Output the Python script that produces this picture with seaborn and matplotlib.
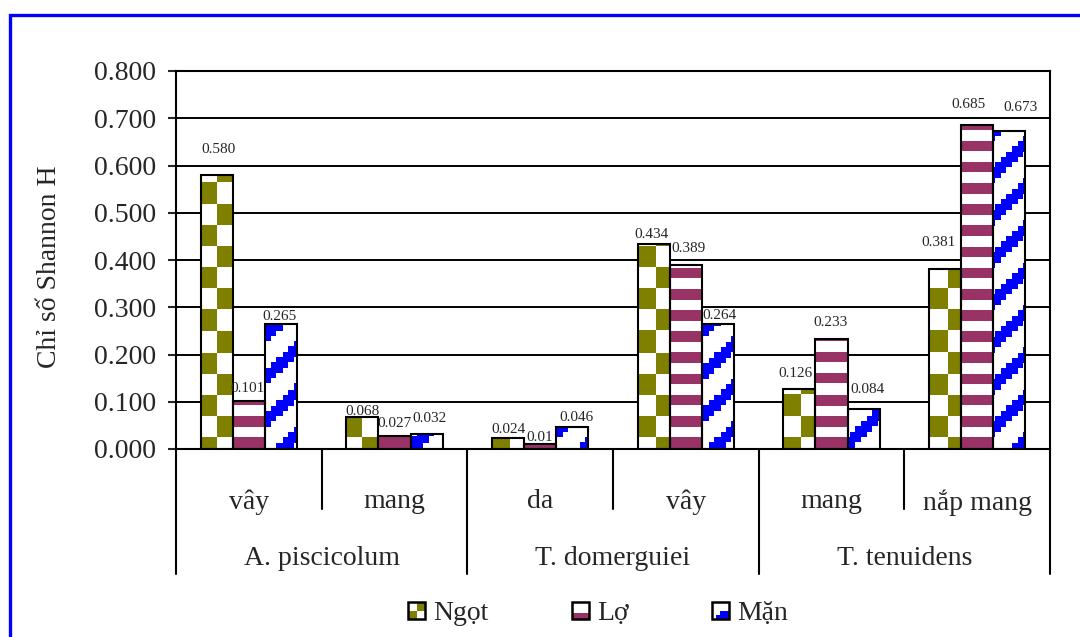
import numpy as np
import pandas as pd
import matplotlib
matplotlib.use("Agg")
import matplotlib.pyplot as plt
import matplotlib.colors as mcolors
import seaborn as sns
from matplotlib.patches import Rectangle, Polygon
from matplotlib.legend_handler import HandlerBase
from matplotlib.ticker import FormatStrFormatter
from matplotlib.transforms import blended_transform_factory

# ---- data -------------------------------------------------------------
species = ["A. piscicolum", "A. piscicolum", "T. domerguiei",
           "T. domerguiei", "T. tenuidens", "T. tenuidens"]
parts = ["vây", "mang", "da", "vây", "mang", "nắp mang"]
salinity = ["Ngọt", "Lợ", "Mặn"]

ngot = [0.580, 0.068, 0.024, 0.434, 0.126, 0.381]
lo = [0.101, 0.027, 0.010, 0.389, 0.233, 0.685]
man = [0.265, 0.032, 0.046, 0.264, 0.084, 0.673]

ngot_labels = ["0.580", "0.068", "0.024", "0.434", "0.126", "0.381"]
lo_labels = ["0.101", "0.027", "0.01", "0.389", "0.233", "0.685"]
man_labels = ["0.265", "0.032", "0.046", "0.264", "0.084", "0.673"]

y_ticks = [0.0, 0.1, 0.2, 0.3, 0.4, 0.5, 0.6, 0.7, 0.8]
y_label = "Chỉ số Shannon H"

# ---- styling ----------------------------------------------------------
sns.set_style("white")
plt.rcParams["font.family"] = ["Liberation Serif", "DejaVu Serif"]

colors = ["#808000", "#993366", "#0000FF"]
kinds = ["checker", "stripes", "diagonal"]

# per-label nudges (pixels) relative to the top centre of each bar
label_dx = [[2, 0, 0, -2, -4, -7], [-1, 0, 0, 3, -1, -9], [-1, 3, 4, 2, 4, 11]]
label_dy = [[25, 5, 8, 9, 16, 26], [13, 13, 7, 17, 16, 21], [7, 15, 10, 9, 20, 24]]

W_PX, H_PX = 1080, 637
fig = plt.figure(figsize=(W_PX / 100, H_PX / 100), dpi=100)
ax = fig.add_axes([176 / W_PX, 1 - 449 / H_PX, 874 / W_PX, 378 / H_PX])

keys = [f"{s}|{p}" for s, p in zip(species, parts)]
df = pd.DataFrame({
    "key": keys * 3,
    "salinity": np.repeat(salinity, len(keys)),
    "value": ngot + lo + man,
})

sns.barplot(data=df, x="key", y="value", hue="salinity", order=keys,
            hue_order=salinity, palette=colors, width=0.66, gap=0,
            saturation=1, edgecolor="black", linewidth=1.5, legend=False, ax=ax)

ax.set_xlim(-0.5, len(keys) - 0.5)
ax.set_ylim(y_ticks[0], y_ticks[-1])
ax.set_yticks(y_ticks)
ax.yaxis.set_major_formatter(FormatStrFormatter("%.3f"))
ax.set_xlabel("")
ax.set_ylabel(y_label, fontsize=20)
ax.yaxis.set_label_coords(-0.131, 0.481)

ax.yaxis.grid(True, color="black", linewidth=1.4)
ax.set_axisbelow(True)
for sp in ax.spines.values():
    sp.set_color("black")
    sp.set_linewidth(1.5)
    sp.set_visible(True)

ax.tick_params(axis="y", direction="out", length=6, width=1.5,
               labelsize=20, pad=8.5, left=True)
ax.set_xticks(range(len(keys)))
ax.set_xticklabels(parts)
ax.tick_params(axis="x", length=0, labelsize=20, pad=29)

# ---- fill patterns ----------------------------------------------------
UX, UY = 5.407, 5.29
X0, Y0 = 216.7, 183.3


def pattern_mask(kind, xs, ys):
    if kind == "checker":
        n = np.floor((xs - X0) / (3 * UX))
        k = np.floor((ys - Y0) / (4 * UY))
        return np.mod(n + k, 2) == 1
    if kind == "stripes":
        return np.mod(ys - Y0, 4 * UY) < 2 * UY
    i = np.floor((xs - X0) / UX)
    j = np.floor((ys - Y0) / UY)
    return np.isin(np.mod(i + j, 8), [4, 5, 6])


for cont, kind, color in zip(ax.containers, kinds, colors):
    rgb = mcolors.to_rgb(color)
    for patch in cont.patches:
        bb = patch.get_window_extent()
        nx = max(int(round(bb.width)), 1)
        ny = max(int(round(bb.height)), 1)
        xs = bb.x0 + (np.arange(nx) + 0.5) * bb.width / nx
        ys = H_PX - (bb.y1 - (np.arange(ny) + 0.5) * bb.height / ny)
        X, Y = np.meshgrid(xs, ys)
        mask = pattern_mask(kind, X, Y)
        img = np.ones((ny, nx, 3))
        img[mask] = rgb
        x, y = patch.get_x(), patch.get_y()
        w, h = patch.get_width(), patch.get_height()
        im = ax.imshow(img, extent=(x, x + w, y, y + h), origin="upper",
                       interpolation="nearest", aspect="auto", zorder=1.5)
        im.set_clip_path(patch)
        patch.set_facecolor("none")
        patch.set_zorder(2)

ax.set_xlim(-0.5, len(keys) - 0.5)
ax.set_ylim(y_ticks[0], y_ticks[-1])

# ---- value labels -----------------------------------------------------
all_labels = [ngot_labels, lo_labels, man_labels]
for s_idx, cont in enumerate(ax.containers):
    for c_idx, patch in enumerate(cont.patches):
        cx = patch.get_x() + patch.get_width() / 2
        top = patch.get_y() + patch.get_height()
        ax.annotate(all_labels[s_idx][c_idx], xy=(cx, top),
                    xytext=(label_dx[s_idx][c_idx], label_dy[s_idx][c_idx]),
                    textcoords="offset pixels", ha="center", va="center",
                    fontsize=11, zorder=4)

# ---- two-level category axis -------------------------------------------
trans = blended_transform_factory(ax.transData, ax.transAxes)
n = len(keys)
for b in range(n + 1):
    pos = b - 0.5
    is_group = b == 0 or b == n or species[b - 1] != species[b]
    depth = -0.33 if is_group else -0.16
    ax.plot([pos, pos], [0, depth], transform=trans, color="black",
            linewidth=1.5, clip_on=False, zorder=3)

groups = []
for i, s in enumerate(species):
    if groups and groups[-1][0] == s:
        groups[-1][2] = i
    else:
        groups.append([s, i, i])
for name, i0, i1 in groups:
    ax.text((i0 + i1) / 2, -0.29, name, transform=trans, ha="center",
            va="center", fontsize=20)

# ---- legend -------------------------------------------------------------
class SwatchHandler(HandlerBase):
    def __init__(self, color, kind):
        super().__init__()
        self.color = color
        self.kind = kind

    def create_artists(self, legend, orig_handle, xdescent, ydescent,
                       width, height, fontsize, trans):
        s = min(width, height)
        x0 = -xdescent + (width - s) / 2
        y0 = -ydescent + (height - s) / 2
        arts = []
        if self.kind == "checker":
            h = s / 2
            arts.append(Rectangle((x0 + h, y0 + h), h, h, facecolor=self.color, lw=0))
            arts.append(Rectangle((x0, y0), h, h, facecolor=self.color, lw=0))
        elif self.kind == "stripes":
            arts.append(Rectangle((x0, y0), s, s * 0.35, facecolor=self.color, lw=0))
        else:
            q = s / 4
            pts = [(x0 + s, y0 + 2 * q), (x0 + s, y0), (x0 + q, y0),
                   (x0 + q, y0 + q), (x0 + 2 * q, y0 + q),
                   (x0 + 2 * q, y0 + 2 * q)]
            arts.append(Polygon(pts, closed=True, facecolor=self.color, lw=0))
        box = Rectangle((x0, y0), s, s, fill=False, edgecolor="black", lw=1.8)
        arts.append(box)
        for a in arts:
            a.set_transform(trans)
        return arts


proxies = [Rectangle((0, 0), 1, 1) for _ in salinity]
handler_map = {p: SwatchHandler(c, k) for p, c, k in zip(proxies, colors, kinds)}
fig.legend(proxies, salinity, loc="center",
           bbox_to_anchor=(598 / W_PX, 1 - 614 / H_PX), ncol=3, frameon=False,
           fontsize=20, handlelength=0.61, handleheight=0.61,
           handletextpad=0.29, columnspacing=3.0, handler_map=handler_map)

# ---- outer frame --------------------------------------------------------
fig.add_artist(Rectangle((9.5 / W_PX, -0.1), 1.2, 1 - 14.5 / H_PX + 0.1,
                         transform=fig.transFigure, fill=False,
                         edgecolor="#0000FF", linewidth=2.4))

fig.savefig("out.png", dpi=100, facecolor="white")
